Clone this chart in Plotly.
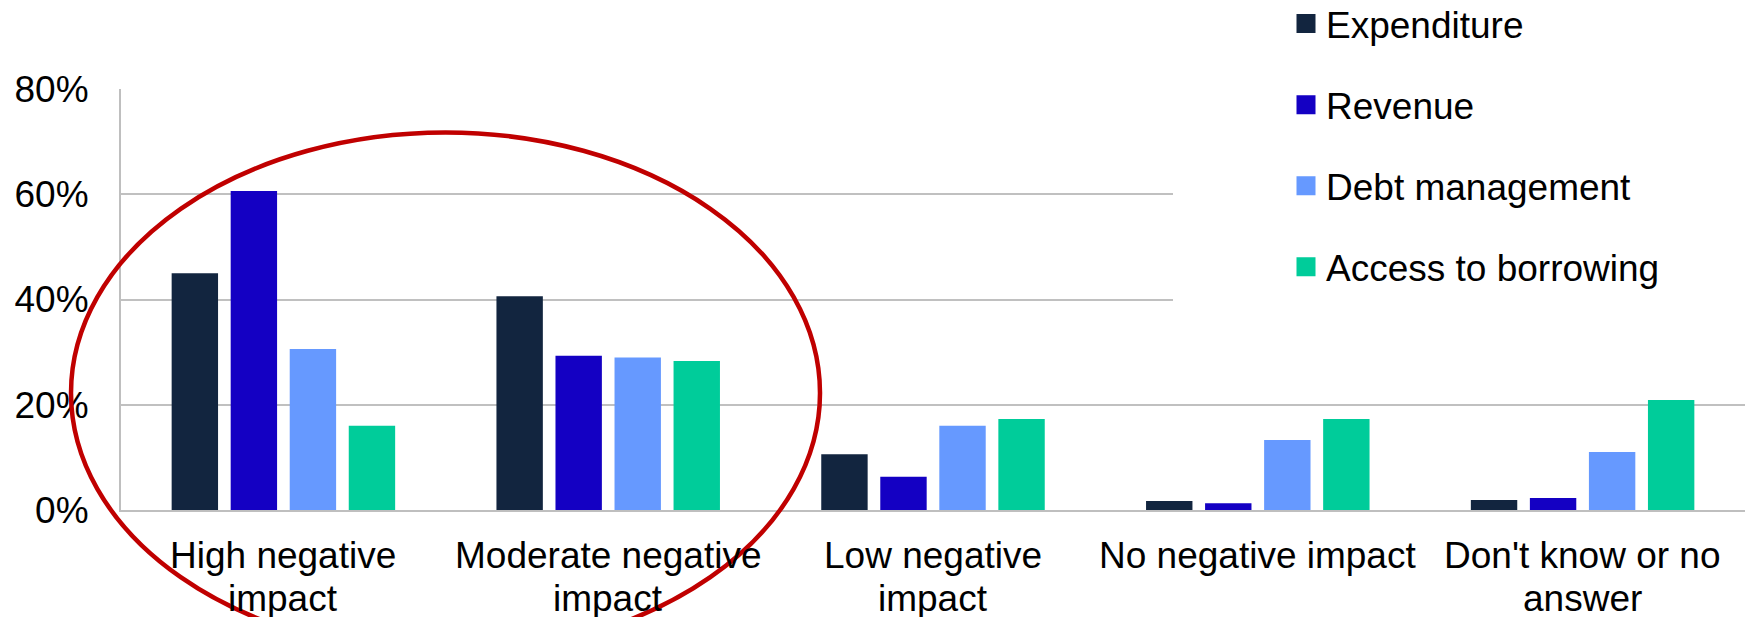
import plotly.graph_objects as go

# Survey categories (x axis) and the share of respondents per area
categories = [
    "High negative<br>impact",
    "Moderate negative<br>impact",
    "Low negative<br>impact",
    "No negative impact",
    "Don't know or no<br>answer",
]
expenditure = [0.450, 0.406, 0.106, 0.017, 0.019]
revenue = [0.606, 0.293, 0.063, 0.013, 0.023]
debt_management = [0.306, 0.290, 0.160, 0.133, 0.110]
access_to_borrowing = [0.160, 0.283, 0.173, 0.173, 0.209]

series_names = ["Expenditure", "Revenue", "Debt management", "Access to borrowing"]
series_values = [expenditure, revenue, debt_management, access_to_borrowing]
series_colors = ["#12253F", "#1400C3", "#6699FF", "#00CC9A"]

y_ticks = [0, 0.2, 0.4, 0.6, 0.8]

FONT = "Liberation Sans, Arial, sans-serif"
FS = 37

fig = go.Figure()

for name, vals, color in zip(series_names, series_values, series_colors):
    fig.add_trace(go.Bar(
        x=categories, y=vals, name=name,
        marker=dict(color=color, line=dict(width=0)),
        showlegend=False,
    ))

# legend entries with larger square swatches
for i, (name, color) in enumerate(zip(series_names, series_colors)):
    fig.add_trace(go.Scatter(
        x=[None], y=[None], name=name, mode="markers",
        marker=dict(symbol="square", size=16, color=color,
                    line=dict(width=3, color=color)),
        legendgroup=f"g{i}", showlegend=True,
    ))

# plot-area geometry (pixels)
PL, PR, PT, PB = 121, 1745, 89, 510
W, H = 1752, 617

def px_x(v):
    return (v - PL) / (PR - PL)

def px_y(v):
    return (PB - v) / (PB - PT)

shapes = [
    # white panel behind the legend, hiding the upper gridlines
    dict(type="rect", xref="paper", yref="paper",
         x0=px_x(1173), x1=px_x(1760), y0=px_y(350), y1=px_y(-10),
         fillcolor="white", line=dict(width=0), layer="above"),
    # red highlight ellipse around the first two groups
    dict(type="circle", xref="paper", yref="paper",
         x0=px_x(71), x1=px_x(820), y0=px_y(653.5), y1=px_y(132.5),
         line=dict(color="#C00000", width=4.5), fillcolor="rgba(0,0,0,0)",
         layer="above"),
]

# category labels, one annotation per text line (tighter line spacing)
LINE_TOPS = [533, 576]  # pixel tops of the first and second label lines
annotations = []
for cat in categories:
    for k, line in enumerate(cat.split("<br>")):
        annotations.append(dict(
            x=cat, xref="x", y=0, yref="paper",
            xanchor="center", yanchor="top",
            yshift=PB - LINE_TOPS[k],
            text=line, showarrow=False,
            font=dict(family=FONT, size=FS, color="#000000"),
        ))

fig.update_layout(
    width=W, height=H,
    margin=dict(l=PL, r=W - PR, t=PT, b=H - PB, pad=0, autoexpand=False),
    paper_bgcolor="white", plot_bgcolor="white",
    font=dict(family=FONT, size=FS, color="#000000"),
    barmode="group", bargap=0.273, bargroupgap=0.214,
    showlegend=True,
    legend=dict(
        xref="paper", yref="paper",
        x=px_x(1286), y=px_y(-7), xanchor="left", yanchor="top",
        bgcolor="rgba(255,255,255,0)", borderwidth=0,
        font=dict(family=FONT, size=FS, color="#000000"),
        traceorder="grouped", tracegroupgap=30,
        itemclick=False, itemdoubleclick=False,
    ),
    shapes=shapes,
    annotations=annotations,
    xaxis=dict(
        type="category", showgrid=False, ticks="", showticklabels=False,
        automargin=False,
        showline=True, linecolor="#BFBFBF", linewidth=2,
    ),
    yaxis=dict(
        range=[0, 0.8], tickvals=y_ticks, tickformat=".0%",
        automargin=False,
        showgrid=True, gridcolor="#C0C0C0", gridwidth=2,
        zeroline=False, showline=True, linecolor="#BFBFBF", linewidth=2,
        ticks="", ticklabelstandoff=23,
        tickfont=dict(family=FONT, size=FS, color="#000000"),
    ),
)

fig.write_html("out.html")
